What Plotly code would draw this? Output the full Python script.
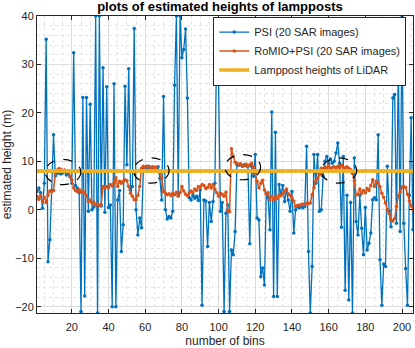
import plotly.graph_objects as go

# bin index 1..206
bins = list(range(1, 207))

# PSI (20 SAR images)
psi = [
    3.8, 4.5, 3.5, 0.3, 5.5, 35.2, -10.7, -6.2, 4.0, 15.5,
    7.0, 7.5, 7.7, 7.4, 7.6, 7.9, 7.2, 7.5, 6.8, 5.5,
    32.4, 5.0, 4.5, 3.5, -21.0, 23.2, -17.8, 23.2, -0.3, 21.8,
    0.0, 0.6, 40.0, -21.3, 40.0, 0.8, 29.3, -0.5, 25.4, 0.5,
    1.0, -20.0, 26.0, -20.0, 2.0, 4.0, -8.6, -3.1, 25.5, 9.3,
    29.1, 4.0, 4.8, 37.4, 0.0, -5.2, -1.7, -3.7, 8.6, 8.8,
    8.4, 9.0, 8.7, 8.5, 8.8, 8.3, 8.9, 6.5, 2.0, 23.4,
    0.0, -1.9, -1.4, -1.7, -0.3, 25.7, 40.0, 3.0, 40.0, 31.4,
    33.1, 37.3, 23.1, 2.5, 2.0, 3.0, 2.4, 2.8, 1.9, 4.1,
    -19.7, 2.0, 1.8, -7.6, 1.5, -2.4, 1.7, 5.5, 37.2, 25.9,
    -0.3, 1.5, -21.0, -0.7, 1.0, -21.0, -8.3, -9.3, -4.5, 9.3,
    9.2, 9.4, 9.0, 9.3, 9.1, 9.0, -7.0, 9.0, 6.9, 11.4,
    -1.7, -2.1, -13.8, -12.0, -15.5, 3.4, 2.5, -4.1, 20.2, -17.9,
    16.0, -17.9, 5.2, 3.2, 5.0, 1.7, 4.1, 2.0, -0.3, 3.8,
    -4.8, 0.0, 0.7, 0.4, 0.7, 0.4, 0.7, 13.1, -8.6, -21.3,
    -11.7, 11.4, 5.5, 11.4, -0.3, 0.0, 6.9, 10.0, 11.0, 9.6,
    10.5, 9.6, 10.0, 11.7, 13.8, 9.6, -3.6, 11.0, -16.6, 3.0,
    -18.6, 1.5, -21.3, 10.7, -2.4, -5.2, 3.0, -3.8, -9.3, 0.5,
    -8.3, -6.9, -4.8, 2.1, 2.5, 2.1, 15.5, -10.3, -19.7, -11.2,
    -11.7, 9.0, -0.3, -3.5, 23.1, 23.8, -2.8, 30.0, -4.5, 40.0,
    -2.8, -12.1, -19.7, 3.0, 19.0, -4.1,
]

# RoMIO+PSI (20 SAR images)
romio = [
    2.8, 2.2, 2.9, 1.6, 2.6, 1.5, 3.0, 3.9, 3.8, 4.0,
    7.6, 8.2, 8.5, 8.3, 8.0, 8.2, 7.9, 7.8, 7.0, 6.2,
    4.5, 4.0, 3.8, 4.2, 3.6, 3.9, 3.4, 2.9, 1.7, 2.0,
    1.4, 1.6, 1.0, 1.2, 0.9, 1.1, 4.8, 4.5, 4.8, 4.5,
    5.2, 4.9, 5.5, 6.6, 4.8, 5.9, 5.5, 5.9, 6.2, 6.0,
    4.8, 3.4, 2.8, 2.1, 2.1, 3.0, 4.8, 8.6, 9.0, 8.8,
    9.0, 8.9, 8.6, 8.9, 8.7, 8.8, 8.1, 7.9, 6.6, 3.8,
    3.4, 3.1, 3.3, 2.9, 3.4, 3.1, 3.6, 2.8, 3.5, 4.8,
    3.9, 3.2, 2.9, 3.5, 3.9, 3.5, 4.3, 4.0, 4.8, 4.6,
    5.2, 5.0, 4.4, 4.6, 5.2, 4.5, 5.2, 4.3, 3.5, 2.8,
    3.4, 3.2, 2.8, 3.6, -0.2, -0.4, 12.6, 11.0, 9.8, 9.6,
    9.3, 9.5, 9.0, 9.2, 9.4, 9.0, 9.3, 9.6, 8.8, 7.6,
    5.9, 4.5, 5.5, 6.1, 4.1, 3.2, 3.5, 2.1, 2.8, 2.1,
    2.8, 2.4, 3.1, 2.9, 3.4, 3.8, 4.3, 3.3, 3.0, 2.5,
    1.8, 0.7, 0.9, 1.0, 1.0, 1.2, 1.1, 1.4, 1.3, 1.4,
    3.1, 4.5, 5.9, 6.5, 7.2, 8.6, 8.4, 8.9, 8.6, 9.1,
    8.5, 8.8, 8.9, 8.6, 9.0, 8.7, 9.2, 8.8, 8.6, 8.9,
    8.5, 8.3, 7.5, 6.0, 3.1, 3.2, 4.3, 3.4, 4.0, 3.5,
    4.4, 4.0, 5.0, 6.2, 4.8, 5.9, 5.5, 4.8, 3.4, 2.6,
    1.4, 0.0, -0.8, -2.1, -2.3, -1.8, 0.7, 2.9, 3.6, 4.7,
    4.8, 4.6, 3.2, 1.8, 0.8, 0.0,
]

lidar_height = 8.0
lidar = [lidar_height] * len(bins)

# highlighted groups (centre bin, centre height)
groups = [(15.2, 7.8), (63.3, 8.1), (113.2, 8.8), (165.6, 8.1)]
half_w, half_h = 9.7, 2.6

blue, orange, yellow = "#0072BD", "#D95319", "#EDB120"

fig = go.Figure()
fig.add_trace(go.Scatter(x=bins, y=psi, mode="lines+markers", name="PSI (20 SAR images)",
                         line=dict(color=blue, width=1.3), marker=dict(size=3.5, color=blue)))
fig.add_trace(go.Scatter(x=bins, y=romio, mode="lines+markers", name="RoMIO+PSI (20 SAR images)",
                         line=dict(color=orange, width=1.5), marker=dict(size=3.5, color=orange)))
fig.add_trace(go.Scatter(x=bins, y=lidar, mode="lines+markers", name="Lamppost heights of LiDAR",
                         line=dict(color=yellow, width=3.5), marker=dict(size=3.5, color=yellow)))

for cx, cy in groups:
    fig.add_shape(type="circle", xref="x", yref="y",
                  x0=cx - half_w, x1=cx + half_w, y0=cy - half_h, y1=cy + half_h,
                  line=dict(color="black", width=1.2, dash="dash"))

axis_common = dict(
    showline=True, linecolor="#262626", linewidth=1, mirror="ticks",
    ticks="inside", ticklen=4, tickcolor="#262626",
    showgrid=True, gridcolor="#dcdcdc", gridwidth=1,
    zeroline=False, tickfont=dict(size=11, color="#262626"),
)

fig.update_xaxes(range=[1, 206], tickvals=list(range(20, 201, 20)), ticklabelstandoff=4,
                 minor=dict(dtick=5, tick0=0, showgrid=True, gridcolor="#e4e4e4", griddash="dot", ticks=""),
                 title=dict(text="number of bins", font=dict(size=12, color="#262626"), standoff=5),
                 **axis_common)
fig.update_yaxes(range=[-21.3, 40], tickvals=list(range(-20, 41, 10)),
                 minor=dict(dtick=2, tick0=0, showgrid=True, gridcolor="#e4e4e4", griddash="dot", ticks=""),
                 title=dict(text="estimated height (m)", font=dict(size=12, color="#262626"), standoff=2),
                 **axis_common)

fig.update_layout(
    width=415, height=348,
    margin=dict(l=37, r=2, t=16, b=35),
    paper_bgcolor="white", plot_bgcolor="white",
    font=dict(family="Liberation Sans, Arial, sans-serif", color="#262626"),
    title=dict(text="<b>plots of estimated heights of lampposts</b>", x=0.53, xanchor="center",
               y=0.995, yanchor="top", font=dict(size=13, color="black")),
    legend=dict(x=0.982, y=0.998, xanchor="right", yanchor="top",
                bgcolor="white", bordercolor="#262626", borderwidth=1,
                font=dict(size=11, color="#262626"), tracegroupgap=0,
                itemwidth=30),
    showlegend=True,
)

# drop the page's default body margin so the figure fills the window
fig.write_html("out.html", config={"displayModeBar": False},
               post_script="document.body.style.margin='0';")
